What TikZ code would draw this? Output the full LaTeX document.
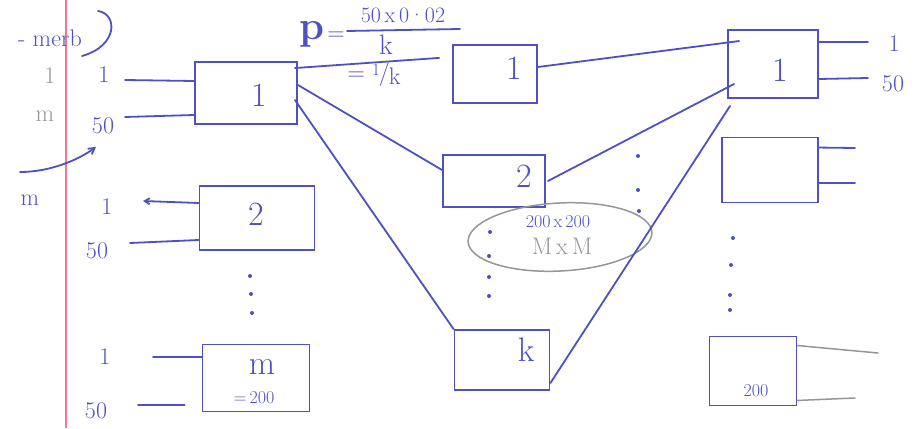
\documentclass[tikz,border=0pt]{standalone}
\usepackage{fontspec}
\usetikzlibrary{calc,arrows.meta}
\definecolor{ink}{RGB}{78,80,196}
\definecolor{pencil}{RGB}{150,150,150}
\definecolor{marginred}{RGB}{242,120,140}
\begin{document}
\begin{tikzpicture}[x=1pt,y=-1pt,
  box/.style={draw=ink,line width=1.9pt,inner sep=0pt,rectangle},
  wire/.style={draw=ink,line width=1.8pt,line cap=round},
  faint/.style={draw=pencil,line width=1.5pt,line cap=round},
  big/.style={text=ink,inner sep=0pt,font=\fontsize{34}{36}\selectfont},
  mid/.style={text=ink,inner sep=0pt,font=\fontsize{24}{26}\selectfont},
  small/.style={text=ink,inner sep=0pt,font=\fontsize{18}{20}\selectfont},
  greytxt/.style={text=pencil,inner sep=0pt,font=\fontsize{24}{26}\selectfont},
  dot/.style={fill=ink,circle,inner sep=0pt,minimum size=4pt}]
\useasboundingbox (0,0) rectangle (917,428);
\fill[white] (0,0) rectangle (917,428);

% notebook margin
\draw[marginred,line width=1.4pt] (66,0) -- (66,428);

% heading scrap and bracket
\node[mid] (head) at (50,38) {- merb};
\draw[wire] (98,11) .. controls (118,14) and (118,46) .. (82,56);

% left column annotations
\node[greytxt] (g1) at (50,76) {1};
\node[greytxt] (gm) at (45,116) {m};
\node[mid] (m0) at (30,200) {m};
\coordinate (c0) at (20,172);
\coordinate (c1) at (96,147);
\draw[wire,-{Straight Barb[length=6pt,width=7pt]}] (c0) .. controls (50,172) and (78,160) .. (c1);

% first layer boxes
\node[box,minimum width=102pt,minimum height=62pt] (L1) at (246,93) {};
\node[box,minimum width=115pt,minimum height=64pt] (L2) at (257,218) {};
\node[box,minimum width=107pt,minimum height=67pt] (Lm) at (256,378) {};
\node[big] (tL1) at (259,95) {1};
\node[big] (tL2) at (256,214) {2};
\node[big] (tLm) at (262,367) {m};
\node[small] (tLm2) at (254,398) {=\,200};

% inputs of the first layer
\node[mid] (i11) at (104,75) {1};
\node[mid] (i12) at (103,126) {50};
\node[mid] (i21) at (107,207) {1};
\node[mid] (i22) at (97,251) {50};
\node[mid] (im1) at (105,357) {1};
\node[mid] (im2) at (96,411) {50};
\coordinate (a1) at (125,80);
\coordinate (a2) at (125,117);
\coordinate (b1) at (143,201);
\coordinate (b2) at (130,243);
\coordinate (d1) at (153,357);
\coordinate (d2) at (138,405);
\draw[wire] (a1) -- ($(L1.west)+(0,-12)$);
\draw[wire] (a2) -- ($(L1.west)+(0,22)$);
\draw[wire,-{Straight Barb[length=5pt,width=6pt]}] ($(L2.west)+(0,-15)$) -- (b1);
\draw[wire] (b2) -- ($(L2.west)+(0,22)$);
\draw[wire] (d1) -- ($(Lm.west)+(0,-21)$);
\draw[wire,shorten >=17pt] (d2) -- ($(Lm.west)+(0,27)$);

% vertical dots, first layer
\node[dot] (p1) at (250,276) {};
\node[dot] (p2) at (251,294) {};
\node[dot] (p3) at (252,313) {};

% second layer boxes
\node[box,minimum width=84pt,minimum height=58pt] (M1) at (495,74) {};
\node[box,minimum width=102pt,minimum height=52pt] (M2) at (494,181) {};
\node[box,minimum width=95pt,minimum height=60pt] (Mk) at (502,360) {};
\node[big] (tM1) at (514,68) {1};
\node[big] (tM2) at (524,176) {2};
\node[big] (tMk) at (526,350) {k};

% probability note
\node[text=ink,inner sep=0pt,font=\fontsize{40}{42}\selectfont\bfseries] (pp) at (312,34) {p};
\node[mid] (eq1) at (336,36) {=};
\node[text=ink,inner sep=0pt,font=\fontsize{22}{24}\selectfont] (num) at (403,15) {50\,x\,0·02};
\draw[wire] (347,31) -- (460,29);
\node[text=ink,inner sep=0pt,font=\fontsize{28}{30}\selectfont] (den) at (386,45) {k};
\node[mid] (eq2) at (374,74) {= \raisebox{5pt}{\fontsize{17}{18}\selectfont 1}\kern-1pt/\kern-1pt\raisebox{-4pt}{k}};

% connections first to second layer
\draw[wire,shorten >=13pt] ($(L1.north east)+(-3,7)$) -- ($(M1.west)+(0,-17)$);
\draw[wire] ($(L1.east)+(0,-8)$) -- ($(M2.west)+(0,-11)$);
\draw[wire] ($(L1.east)+(-3,7)$) -- (Mk.north west);

% vertical dots, second layer
\node[dot] (q1) at (490,232) {};
\node[dot] (q2) at (489,256) {};
\node[dot] (q3) at (489,277) {};
\node[dot] (q4) at (489,296) {};
\node[dot] (r1) at (638,156) {};
\node[dot] (r2) at (638,190) {};
\node[dot] (r3) at (639,211) {};

% output size note
\draw[draw=pencil,line width=1.5pt,rotate around={3:(560,237)}] (560,237) ellipse [x radius=92, y radius=34];
\node[small] (n1) at (558,222) {200\,x\,200};
\node[greytxt] (n2) at (562,246) {M\,x\,M};

% third layer boxes
\node[box,minimum width=90pt,minimum height=68pt] (R1) at (773,64) {};
\node[box,minimum width=96pt,minimum height=65pt] (R2) at (770,170) {};
\node[box,minimum width=87pt,minimum height=69pt] (R3) at (753,371) {};
\node[big] (tR1) at (780,70) {1};
\node[small] (tR3) at (756,391) {200};

% connections second to third layer
\draw[wire] ($(M1.east)+(0,-7)$) -- ($(R1.north west)+(12,12)$);
\draw[wire] ($(M2.east)+(2,0)$) -- ($(R1.west)+(7,20)$);
\draw[wire] ($(Mk.east)+(0,23)$) -- ($(R1.south west)+(3,7)$);

% vertical dots, third layer
\node[dot] (s1) at (733,238) {};
\node[dot] (s2) at (731,265) {};
\node[dot] (s3) at (730,295) {};
\node[dot] (s4) at (730,310) {};

% outputs of the third layer
\coordinate (o11) at (868,42);
\coordinate (o12) at (868,78);
\coordinate (o21) at (855,148);
\coordinate (o22) at (855,183);
\coordinate (o31) at (878,353);
\coordinate (o32) at (855,398);
\draw[wire] ($(R1.north east)+(0,13)$) -- (o11);
\draw[wire] ($(R1.east)+(0,15)$) -- (o12);
\draw[wire] ($(R2.north east)+(0,11)$) -- (o21);
\draw[wire] ($(R2.east)+(0,13)$) -- (o22);
\draw[faint] ($(R3.north east)+(0,10)$) -- (o31);
\draw[faint] ($(R3.south east)+(0,-6)$) -- (o32);
\node[mid] (out1) at (894,44) {1};
\node[mid] (out2) at (893,84) {50};
\end{tikzpicture}
\end{document}
